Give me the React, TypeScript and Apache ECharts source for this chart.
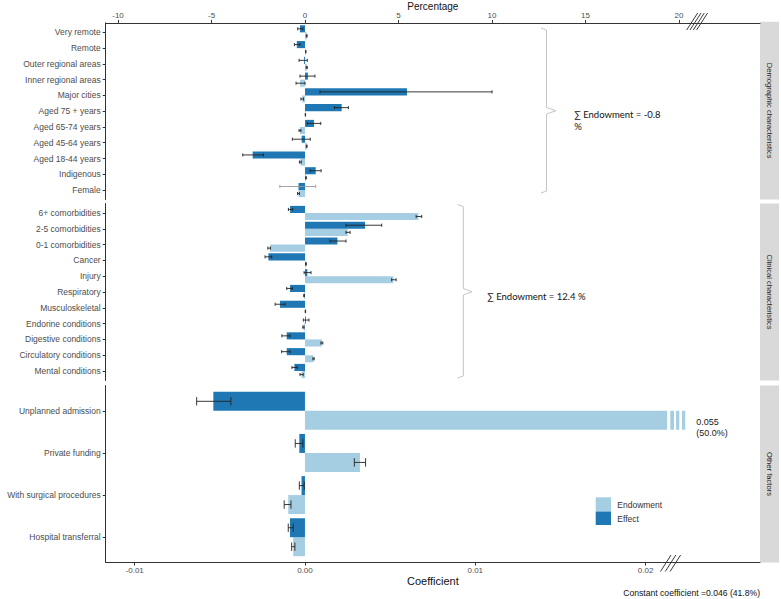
import React, { useEffect, useRef } from "react";
import * as echarts from "echarts";

// ---------- data ----------
const demoCats = [
  "Very remote", "Remote", "Outer regional areas", "Inner regional areas", "Major cities",
  "Aged 75 + years", "Aged 65-74 years", "Aged 45-64 years", "Aged 18-44 years", "Indigenous", "Female",
];
const demoEffect = [-0.27, -0.44, -0.05, 0.15, 5.45, 1.96, 0.48, -0.18, -2.8, 0.57, -0.35];
const demoEffectLo = [-0.39, -0.57, -0.32, -0.27, 0.8, 1.57, 0.12, -0.68, -3.33, 0.27, -1.35];
const demoEffectHi = [-0.12, -0.27, 0.12, 0.53, 10.0, 2.32, 0.84, 0.28, -2.23, 0.86, 0.57];
const demoEndow = [0.09, 0.04, 0.09, -0.27, -0.15, 0.02, -0.27, 0.09, -0.25, 0.05, -0.35];
const demoEndowLo = [0.07, 0.03, 0.06, -0.48, -0.22, 0.01, -0.32, 0.07, -0.3, 0.03, -0.4];
const demoEndowHi = [0.11, 0.05, 0.12, 0.0, -0.08, 0.03, -0.22, 0.11, -0.2, 0.07, -0.3];

const clinCats = [
  "6+ comorbidities", "2-5 comorbidities", "0-1 comorbidities", "Cancer", "Injury", "Respiratory",
  "Musculoskeletal", "Endorine conditions", "Digestive conditions", "Circulatory conditions", "Mental conditions",
];
const clinEffect = [-0.8, 3.21, 1.73, -1.96, 0.12, -0.8, -1.34, 0.05, -0.98, -0.98, -0.57];
const clinEffectLo = [-0.89, 2.19, 1.34, -2.14, -0.05, -0.98, -1.6, -0.09, -1.24, -1.25, -0.7];
const clinEffectHi = [-0.66, 4.1, 2.19, -1.78, 0.32, -0.68, -1.07, 0.21, -0.8, -0.8, -0.42];
const clinEndow = [6.06, 2.28, -1.87, 0.05, 4.72, -0.05, 0.02, -0.08, 0.9, 0.45, -0.18];
const clinEndowLo = [5.94, 2.19, -1.99, 0.03, 4.63, -0.07, 0.01, -0.12, 0.85, 0.42, -0.27];
const clinEndowHi = [6.24, 2.41, -1.85, 0.07, 4.87, -0.03, 0.03, -0.05, 0.95, 0.49, -0.1];

const otherCats = ["Unplanned admission", "Private funding", "With surgical procedures", "Hospital transferral"];
const otherEffect = [-0.00538, -0.00033, -0.0002, -0.00088];
const otherEffectLo = [-0.00636, -0.00057, -0.00033, -0.00098];
const otherEffectHi = [-0.00435, -0.00012, -0.00004, -0.00069];
const otherEndow = [0.055, 0.00323, -0.00098, -0.00069];
const otherEndowLo = [0.055, 0.0029, -0.00122, -0.00078];
const otherEndowHi = [0.055, 0.00356, -0.00082, -0.00059];
const unplannedShare = "50.0%";

const pctTicks = [-10, -5, 0, 5, 10, 15, 20];
const coefTicks = [-0.01, 0, 0.01, 0.02];
const panelNames = ["Demographic characteristics", "Clinical characteristics", "Other factors"];
const sumEndowDemo = "-0.8";
const sumEndowClin = "12.4";
const constantText = "Constant coefficient =0.046 (41.8%)";

// ---------- style ----------
const DARK = "#1f78b4";
const LIGHT = "#a6cee3";
const FONT = "Liberation Sans, Arial, sans-serif";
const AXIS = "#333333";
const PCT_MIN = -10.66;
const PCT_MAX = 24.33;
const COEF_MIN = -0.0117;
const COEF_MAX = 0.02672;
const BREAK_AT = 0.02127;
const BREAK_STRIPES = [
  [0.02145, 0.02167],
  [0.02179, 0.02198],
  [0.02214, 0.02233],
];
const GRID_LEFT = 105.7;
const GRID_RIGHT = 21;
const GRIDS = [
  { top: 21.7, height: 177.8 },
  { top: 203.5, height: 177 },
  { top: 385.5, height: 177 },
];

function buildData(eff: number[], effLo: number[], effHi: number[], end: number[], endLo: number[], endHi: number[]) {
  const out: number[][] = [];
  end.forEach((v, i) => out.push([v, i, endLo[i], endHi[i], 1]));
  eff.forEach((v, i) => out.push([v, i, effLo[i], effHi[i], 0]));
  return out;
}

function makeRender(panel: number) {
  return (params: any, api: any) => {
    const v = api.value(0);
    const idx = api.value(1);
    const lo = api.value(2);
    const hi = api.value(3);
    const kind = api.value(4);
    const band = api.size([0, 1])[1];
    const h = band * 0.45;
    const base = api.coord([0, idx]);
    const broken = panel === 2 && v > BREAK_AT;
    const shown = broken ? BREAK_AT : v;
    const end = api.coord([shown, idx]);
    const yTop = kind === 0 ? base[1] - h : base[1];
    const children: any[] = [];
    children.push({
      type: "rect",
      shape: { x: Math.min(base[0], end[0]), y: yTop, width: Math.abs(end[0] - base[0]), height: h },
      style: { fill: kind === 0 ? DARK : LIGHT },
    });
    if (broken) {
      BREAK_STRIPES.forEach(([a, b]) => {
        const xa = api.coord([a, idx])[0];
        const xb = api.coord([b, idx])[0];
        children.push({ type: "rect", shape: { x: xa, y: yTop, width: xb - xa, height: h }, style: { fill: LIGHT } });
      });
      const lastX = api.coord([BREAK_STRIPES[2][1], idx])[0];
      children.push({
        type: "text",
        x: lastX + 11,
        y: yTop + 6,
        style: {
          text: v.toFixed(3) + "\n(" + unplannedShare + ")",
          fontSize: 9,
          lineHeight: 11,
          fontFamily: FONT,
          fill: "#222",
          align: "left",
          verticalAlign: "top",
          textAlign: "left",
          textVerticalAlign: "top",
        },
      });
    } else if (lo !== hi) {
      const xa = api.coord([lo, idx])[0];
      const xb = api.coord([hi, idx])[0];
      const yc = yTop + h / 2;
      const cap = band * 0.1;
      const grey = panel === 0 && kind === 0 && idx === 10;
      const st = { stroke: grey ? "#9a9a9a" : "#222", lineWidth: 0.9 };
      children.push({ type: "line", shape: { x1: xa, y1: yc, x2: xb, y2: yc }, style: st });
      children.push({ type: "line", shape: { x1: xa, y1: yc - cap, x2: xa, y2: yc + cap }, style: st });
      children.push({ type: "line", shape: { x1: xb, y1: yc - cap, x2: xb, y2: yc + cap }, style: st });
    }
    return { type: "group", children };
  };
}

function yAxis(i: number, cats: string[]) {
  const idxs = cats.map((_, k) => k);
  return {
    type: "value",
    gridIndex: i,
    inverse: true,
    min: -0.6,
    max: cats.length - 0.4,
    splitLine: { show: false },
    axisLine: { show: true, onZero: false, lineStyle: { color: AXIS, width: 1 } },
    axisTick: { show: true, customValues: idxs, length: 3, lineStyle: { color: AXIS } },
    axisLabel: {
      customValues: idxs,
      formatter: (val: number) => cats[Math.round(val)] ?? "",
      fontSize: 8.5,
      color: "#4d4d4d",
      margin: 5,
      fontFamily: FONT,
    },
  };
}

function txt(text: string, x: number, y: number, size: number, extra: any = {}) {
  return {
    type: "text",
    x,
    y,
    silent: true,
    ...extra,
    style: {
      text,
      fontSize: size,
      fontFamily: FONT,
      fill: "#222",
      align: "left",
      verticalAlign: "middle",
      textAlign: "left",
      textVerticalAlign: "middle",
      ...(extra.style || {}),
    },
  };
}

export default function App() {
  const ref = useRef<HTMLDivElement>(null);
  useEffect(() => {
    if (!ref.current) return;
    const chart = echarts.init(ref.current, null, { renderer: "svg" });

    const graphic: any[] = [];
    // facet strips
    GRIDS.forEach((g, i) => {
      graphic.push({ type: "rect", silent: true, shape: { x: 760, y: g.top, width: 19, height: g.height }, style: { fill: "#d9d9d9" } });
      graphic.push(
        txt(panelNames[i], 769.5, g.top + g.height / 2, 7.6, {
          rotation: -Math.PI / 2,
          style: { align: "center", textAlign: "center", fill: "#1a1a1a" },
        })
      );
    });
    // brackets
    const brace = "#c4c4c4";
    graphic.push({
      type: "polyline",
      silent: true,
      shape: { points: [[541, 28], [546.5, 30], [546.5, 107.5], [556, 110.7], [546.5, 114], [546.5, 191], [541, 193]] },
      style: { stroke: brace, lineWidth: 1, fill: null },
    });
    graphic.push({
      type: "polyline",
      silent: true,
      shape: { points: [[457.5, 204.5], [463.3, 206.5], [463.3, 288.5], [472, 291.7], [463.3, 295], [463.3, 376], [457.5, 378]] },
      style: { stroke: brace, lineWidth: 1, fill: null },
    });
    graphic.push(
      txt("∑ Endowment = " + sumEndowDemo + "\n%", 574.3, 120.5, 9.5, {
        style: { fontFamily: "Lato, Open Sans, sans-serif", lineHeight: 11.5, fill: "#111" },
      })
    );
    graphic.push(
      txt("∑ Endowment = " + sumEndowClin + " %", 487.3, 296.7, 9.5, {
        style: { fontFamily: "Lato, Open Sans, sans-serif", fill: "#111" },
      })
    );
    // axis break marks
    [0, 1, 2, 3].forEach((k) => {
      graphic.push({
        type: "line",
        silent: true,
        shape: { x1: 686.7 + 3.3 * k, y1: 30, x2: 697.7 + 3.3 * k, y2: 13 },
        style: { stroke: "#222", lineWidth: 0.9 },
      });
    });
    [0, 1, 2].forEach((k) => {
      graphic.push({
        type: "line",
        silent: true,
        shape: { x1: 660.5 + 4.8 * k, y1: 571.5, x2: 671 + 4.8 * k, y2: 555 },
        style: { stroke: "#222", lineWidth: 0.9 },
      });
    });
    // legend
    graphic.push({ type: "rect", silent: true, shape: { x: 595.7, y: 497.3, width: 15.3, height: 14.2 }, style: { fill: LIGHT } });
    graphic.push({ type: "rect", silent: true, shape: { x: 595.7, y: 511.5, width: 15.3, height: 13.5 }, style: { fill: DARK } });
    graphic.push(txt("Endowment", 617.3, 505, 8.5, { style: { fill: "#333" } }));
    graphic.push(txt("Effect", 617.3, 519, 8.5, { style: { fill: "#333" } }));
    // constant
    graphic.push(txt(constantText, 760, 592.7, 8.6, { style: { align: "right", textAlign: "right", fill: "#111" } }));

    const xBase = {
      type: "value",
      splitLine: { show: false },
      axisLine: { show: true, onZero: false, lineStyle: { color: AXIS, width: 1 } },
    };

    chart.setOption({
      animation: false,
      textStyle: { fontFamily: FONT },
      grid: GRIDS.map((g) => ({ left: GRID_LEFT, right: GRID_RIGHT, top: g.top, height: g.height })),
      xAxis: [
        {
          ...xBase,
          gridIndex: 0,
          position: "top",
          min: PCT_MIN,
          max: PCT_MAX,
          axisTick: { show: true, customValues: pctTicks, length: 3, lineStyle: { color: AXIS } },
          axisLabel: { customValues: pctTicks, fontSize: 8, color: "#4d4d4d", margin: 3, fontFamily: FONT },
          name: "Percentage",
          nameLocation: "middle",
          nameGap: 11,
          nameTextStyle: { fontSize: 10, color: "#111", fontFamily: FONT },
        },
        {
          ...xBase,
          gridIndex: 1,
          min: PCT_MIN,
          max: PCT_MAX,
          show: false,
        },
        {
          ...xBase,
          gridIndex: 2,
          position: "bottom",
          min: COEF_MIN,
          max: COEF_MAX,
          axisTick: { show: true, customValues: coefTicks, length: 3, lineStyle: { color: AXIS } },
          axisLabel: {
            customValues: coefTicks,
            fontSize: 8,
            color: "#4d4d4d",
            margin: 4,
            fontFamily: FONT,
            formatter: (v: number) => (Math.abs(v) < 1e-9 ? "0.00" : String(v)),
          },
          name: "Coefficient",
          nameLocation: "middle",
          nameGap: 12.5,
          nameTextStyle: { fontSize: 11, color: "#111", fontFamily: FONT },
        },
      ],
      yAxis: [yAxis(0, demoCats), yAxis(1, clinCats), yAxis(2, otherCats)],
      series: [
        {
          type: "custom",
          xAxisIndex: 0,
          yAxisIndex: 0,
          clip: false,
          silent: true,
          encode: { x: 0, y: 1 },
          renderItem: makeRender(0),
          data: buildData(demoEffect, demoEffectLo, demoEffectHi, demoEndow, demoEndowLo, demoEndowHi),
        },
        {
          type: "custom",
          xAxisIndex: 1,
          yAxisIndex: 1,
          clip: false,
          silent: true,
          encode: { x: 0, y: 1 },
          renderItem: makeRender(1),
          data: buildData(clinEffect, clinEffectLo, clinEffectHi, clinEndow, clinEndowLo, clinEndowHi),
        },
        {
          type: "custom",
          xAxisIndex: 2,
          yAxisIndex: 2,
          clip: false,
          silent: true,
          encode: { x: 0, y: 1 },
          renderItem: makeRender(2),
          data: buildData(otherEffect, otherEffectLo, otherEffectHi, otherEndow, otherEndowLo, otherEndowHi),
        },
      ],
      graphic,
    });
    return () => chart.dispose();
  }, []);
  return (
    <div
      ref={ref}
      style={{ position: "fixed", left: 0, top: 0, width: 781, height: 599, background: "#fff" }}
    />
  );
}
